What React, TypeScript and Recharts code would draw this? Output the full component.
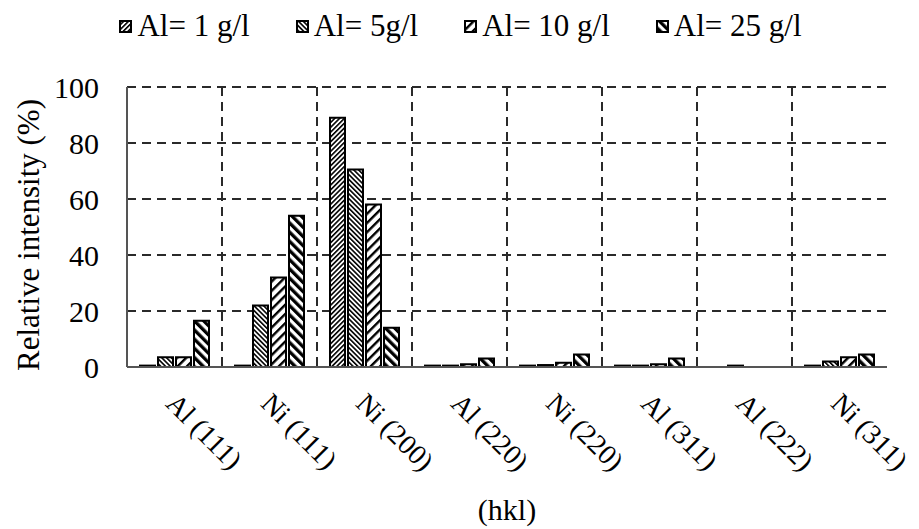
import React from "react";
import {
  Bar,
  BarChart,
  CartesianGrid,
  Label,
  Legend,
  XAxis,
  YAxis,
} from "recharts";

const FONT = "Liberation Serif, serif";

const categories = [
  "Al (111)",
  "Ni (111)",
  "Ni (200)",
  "Al (220)",
  "Ni (220)",
  "Al (311)",
  "Al (222)",
  "Ni (311)",
];

const al1 = [0.5, 0.5, 89, 0.5, 0.5, 0.5, 0, 0.5];
const al5 = [3.5, 22, 70.5, 0.5, 0.7, 0.5, 0.5, 2];
const al10 = [3.5, 32, 58, 1, 1.5, 1, 0, 3.5];
const al25 = [16.5, 54, 14, 3, 4.5, 3, 0, 4.5];

const yTicks = [0, 20, 40, 60, 80, 100];

const series = [
  { key: "al1", name: "Al= 1 g/l", values: al1, pattern: "pat-al1" },
  { key: "al5", name: "Al= 5g/l", values: al5, pattern: "pat-al5" },
  { key: "al10", name: "Al= 10 g/l", values: al10, pattern: "pat-al10" },
  { key: "al25", name: "Al= 25 g/l", values: al25, pattern: "pat-al25" },
];

const data = categories.map((hkl, i) => {
  const row: Record<string, string | number> = { hkl };
  series.forEach((s) => {
    row[s.key] = s.values[i];
  });
  return row;
});

// hatch patterns: period, black stripe width, angle
const patternDefs = [
  { id: "pat-al1", size: 3.4, stripe: 1.6, angle: 45 },
  { id: "pat-al5", size: 3.4, stripe: 1.6, angle: -45 },
  { id: "pat-al10", size: 6.5, stripe: 2.4, angle: 45 },
  { id: "pat-al25", size: 6.5, stripe: 3.3, angle: -45 },
];

const Patterns = () => (
  <>
    {patternDefs.map((p) => (
      <pattern
        key={p.id}
        id={p.id}
        patternUnits="userSpaceOnUse"
        width={p.size}
        height={p.size}
        patternTransform={`rotate(${p.angle})`}
      >
        <rect x={0} y={0} width={p.size} height={p.size} fill="#fff" />
        <rect x={0} y={0} width={p.stripe} height={p.size} fill="#000" />
      </pattern>
    ))}
  </>
);

const LegendContent = () => (
  <div
    style={{
      height: 82,
      display: "flex",
      justifyContent: "center",
      alignItems: "flex-start",
      gap: 46,
      paddingLeft: 34,
      boxSizing: "border-box",
      fontFamily: FONT,
      fontSize: 31,
      color: "#000",
    }}
  >
    {series.map((s) => (
      <div
        key={s.key}
        style={{ display: "flex", alignItems: "center", height: 42 }}
      >
        <svg width={13} height={13} style={{ marginRight: 5 }}>
          <defs>
            <Patterns />
          </defs>
          <rect
            x={1}
            y={1}
            width={11}
            height={11}
            fill={`url(#${s.pattern})`}
            stroke="#000"
            strokeWidth={2}
          />
        </svg>
        <span style={{ whiteSpace: "nowrap", fontFamily: FONT }}>{s.name}</span>
      </div>
    ))}
  </div>
);

const XTick = (props: any) => {
  const { x, y, payload } = props;
  const ax = x - 10;
  const ay = y + 38;
  return (
    <text
      x={ax}
      y={ay}
      transform={`rotate(45 ${ax} ${ay})`}
      textAnchor="start"
      style={{ fontFamily: FONT }}
      fontSize={28}
      fill="#000"
    >
      {payload.value}
    </text>
  );
};

export default function App() {
  return (
    <div
      style={{
        position: "absolute",
        left: 0,
        top: 0,
        width: 919,
        height: 529,
        fontFamily: FONT,
      }}
    >
      <BarChart
        width={919}
        height={529}
        data={data}
        margin={{ top: 5, right: 32, left: 0, bottom: 0 }}
        barSize={15}
        barGap={3}
        style={{ fontFamily: FONT }}
      >
        <defs>
          <Patterns />
        </defs>
        <Legend verticalAlign="top" content={<LegendContent />} />
        <CartesianGrid
          stroke="#2a2a2a"
          strokeWidth={2}
          strokeDasharray="9 6"
          verticalCoordinatesGenerator={({ offset }: any) =>
            categories
              .slice(1)
              .map((_, i) => offset.left + ((i + 1) * offset.width) / categories.length)
          }
        />
        <XAxis
          dataKey="hkl"
          height={162}
          tickSize={0}
          tickMargin={0}
          tick={<XTick />}
          interval={0}
          axisLine={{ stroke: "#555", strokeWidth: 2 }}
        >
          <Label
            content={({ viewBox }: any) => (
              <text
                x={viewBox.x + viewBox.width / 2}
                y={viewBox.y + 153}
                textAnchor="middle"
                style={{ fontFamily: FONT }}
                fontSize={30}
                fill="#000"
              >
                (hkl)
              </text>
            )}
          />
        </XAxis>
        <XAxis
          xAxisId="top"
          dataKey="hkl"
          orientation="top"
          height={0}
          tick={false}
          tickLine={false}
          axisLine={{ stroke: "#555", strokeWidth: 2 }}
        />
        <YAxis
          width={127}
          domain={[0, 100]}
          ticks={yTicks}
          tickSize={0}
          tickMargin={28}
          axisLine={{ stroke: "#555", strokeWidth: 2 }}
          tick={{ style: { fontFamily: FONT }, fontSize: 30, fill: "#000" }}
        >
          <Label
            content={({ viewBox }: any) => {
              const cx = 28;
              const cy = viewBox.y + viewBox.height / 2 + 8;
              return (
                <text
                  x={cx}
                  y={cy}
                  transform={`rotate(-90 ${cx} ${cy})`}
                  textAnchor="middle"
                  dominantBaseline="central"
                  style={{ fontFamily: FONT }}
                  fontSize={31}
                  fill="#000"
                >
                  Relative intensity (%)
                </text>
              );
            }}
          />
        </YAxis>
        <YAxis
          yAxisId="right"
          orientation="right"
          width={0}
          domain={[0, 100]}
          tick={false}
          tickLine={false}
          axisLine={{ stroke: "#555", strokeWidth: 2 }}
        />
        {series.map((s) => (
          <Bar
            key={s.key}
            dataKey={s.key}
            name={s.name}
            fill={`url(#${s.pattern})`}
            stroke="#000"
            strokeWidth={2}
            isAnimationActive={false}
          />
        ))}
      </BarChart>
    </div>
  );
}
